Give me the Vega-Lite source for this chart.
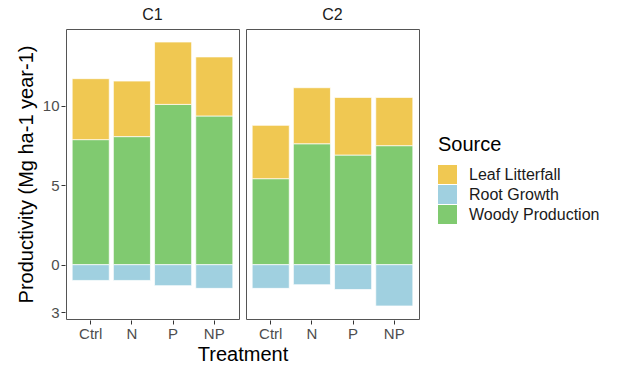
{
  "$schema": "https://vega.github.io/schema/vega-lite/v6.json",
  "padding": {"left": 16, "top": 7, "right": 5, "bottom": 5},
  "data": {"values": [
    {"Site": "C1", "Treatment": "Ctrl", "Source": "Woody Production", "value": 7.88},
    {"Site": "C1", "Treatment": "Ctrl", "Source": "Leaf Litterfall", "value": 3.84},
    {"Site": "C1", "Treatment": "Ctrl", "Source": "Root Growth", "value": -0.99},
    {"Site": "C1", "Treatment": "N", "Source": "Woody Production", "value": 8.07},
    {"Site": "C1", "Treatment": "N", "Source": "Leaf Litterfall", "value": 3.5},
    {"Site": "C1", "Treatment": "N", "Source": "Root Growth", "value": -0.99},
    {"Site": "C1", "Treatment": "P", "Source": "Woody Production", "value": 10.1},
    {"Site": "C1", "Treatment": "P", "Source": "Leaf Litterfall", "value": 3.93},
    {"Site": "C1", "Treatment": "P", "Source": "Root Growth", "value": -1.32},
    {"Site": "C1", "Treatment": "NP", "Source": "Woody Production", "value": 9.37},
    {"Site": "C1", "Treatment": "NP", "Source": "Leaf Litterfall", "value": 3.72},
    {"Site": "C1", "Treatment": "NP", "Source": "Root Growth", "value": -1.49},
    {"Site": "C2", "Treatment": "Ctrl", "Source": "Woody Production", "value": 5.42},
    {"Site": "C2", "Treatment": "Ctrl", "Source": "Leaf Litterfall", "value": 3.36},
    {"Site": "C2", "Treatment": "Ctrl", "Source": "Root Growth", "value": -1.49},
    {"Site": "C2", "Treatment": "N", "Source": "Woody Production", "value": 7.62},
    {"Site": "C2", "Treatment": "N", "Source": "Leaf Litterfall", "value": 3.53},
    {"Site": "C2", "Treatment": "N", "Source": "Root Growth", "value": -1.26},
    {"Site": "C2", "Treatment": "P", "Source": "Woody Production", "value": 6.91},
    {"Site": "C2", "Treatment": "P", "Source": "Leaf Litterfall", "value": 3.63},
    {"Site": "C2", "Treatment": "P", "Source": "Root Growth", "value": -1.56},
    {"Site": "C2", "Treatment": "NP", "Source": "Woody Production", "value": 7.5},
    {"Site": "C2", "Treatment": "NP", "Source": "Leaf Litterfall", "value": 3.04},
    {"Site": "C2", "Treatment": "NP", "Source": "Root Growth", "value": -2.6}
  ]},
  "facet": {
    "column": {
      "field": "Site", "type": "nominal", "title": "Treatment",
      "header": {
        "labelFontSize": 16, "labelFont": "Liberation Sans", "labelColor": "#1a1a1a", "labelPadding": 5, "labelOrient": "top",
        "titleOrient": "bottom", "titleFontSize": 20, "titleFont": "Liberation Sans", "titleFontWeight": "normal", "titleColor": "#000000", "titlePadding": -6
      }
    }
  },
  "spacing": 5,
  "spec": {
    "width": 173,
    "height": 290,
    "mark": {"type": "bar", "stroke": "white", "strokeWidth": 0.7},
    "encoding": {
      "x": {
        "field": "Treatment", "type": "nominal", "sort": ["Ctrl", "N", "P", "NP"],
        "scale": {"paddingInner": 0.1, "paddingOuter": 0.15},
        "axis": {"labelAngle": 0, "title": null}
      },
      "y": {
        "field": "value", "type": "quantitative", "stack": "zero",
        "scale": {"domain": [-3.42, 14.85], "nice": false, "zero": false},
        "axis": {"values": [-3, 0, 5, 10], "labelExpr": "abs(datum.value)", "title": "Productivity (Mg ha-1 year-1)", "grid": false}
      },
      "color": {
        "field": "Source", "type": "nominal",
        "scale": {"domain": ["Leaf Litterfall", "Root Growth", "Woody Production"], "range": ["#F0C852", "#A0D0E0", "#80CA70"]},
        "legend": {"title": "Source", "orient": "none", "legendX": 372, "legendY": 106}
      },
      "order": {"field": "Source", "sort": "descending"}
    }
  },
  "config": {
    "font": "Liberation Sans",
    "view": {"stroke": "#555555", "strokeWidth": 1},
    "axis": {
      "labelFont": "Liberation Sans", "labelFontSize": 15, "labelColor": "#4D4D4D",
      "titleFont": "Liberation Sans", "titleFontSize": 20, "titleFontWeight": "normal", "titleColor": "#000000",
      "tickColor": "#333333", "tickSize": 4, "domain": false, "labelPadding": 2, "titlePadding": 6
    },
    "legend": {
      "titleFont": "Liberation Sans", "titleFontSize": 20, "titleFontWeight": "normal", "titleColor": "#000000",
      "labelFont": "Liberation Sans", "labelFontSize": 16, "labelColor": "#1a1a1a", "labelOffset": 12,
      "symbolType": "square", "symbolSize": 361, "symbolStrokeWidth": 0, "rowPadding": 1, "titlePadding": 10
    }
  }
}
